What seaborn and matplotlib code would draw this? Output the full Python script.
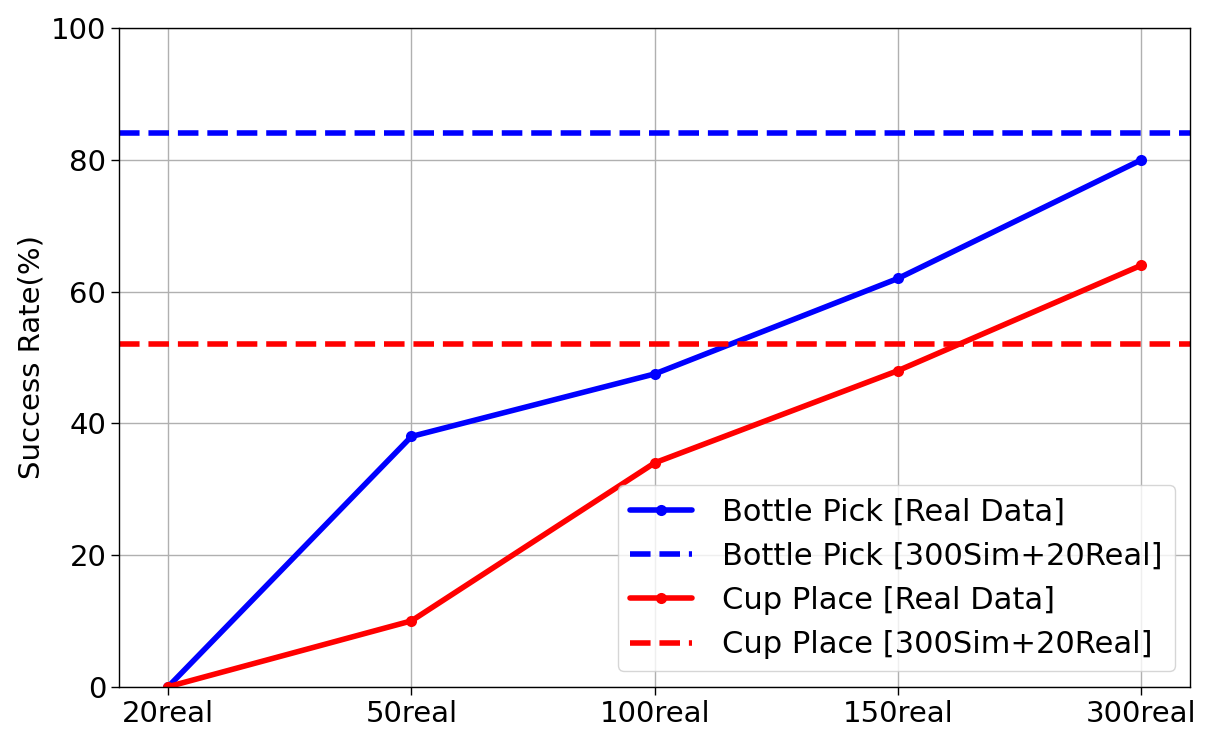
import seaborn as sns
import pandas as pd
import matplotlib.pyplot as plt

# data
setups = ['20real', '50real', '100real', '150real', '300real']
bottle_real = [0, 38, 47.5, 62, 80]
cup_real = [0, 10, 34, 48, 64]
bottle_sim = 84
cup_sim = 52

df = pd.DataFrame({'setup': setups, 'bottle': bottle_real, 'cup': cup_real})
df['pos'] = range(len(setups))

sns.set_style('white')
plt.rcParams['font.family'] = ['DejaVu Sans']
plt.rcParams.update({'text.color': 'black', 'axes.labelcolor': 'black',
                     'xtick.color': 'black', 'ytick.color': 'black'})

fig, ax = plt.subplots(figsize=(12.07, 7.4), dpi=100)

sns.lineplot(data=df, x='pos', y='bottle', color='blue', lw=4, marker='o',
             markersize=8, markeredgewidth=0, label='Bottle Pick [Real Data]', ax=ax)
ax.axhline(bottle_sim, color='blue', ls='--', lw=4,
           label='Bottle Pick [300Sim+20Real]')
sns.lineplot(data=df, x='pos', y='cup', color='red', lw=4, marker='o',
             markersize=8, markeredgewidth=0, label='Cup Place [Real Data]', ax=ax)
ax.axhline(cup_sim, color='red', ls='--', lw=4,
           label='Cup Place [300Sim+20Real]')

ax.set_xticks(df['pos'])
ax.set_xticklabels(setups)
ax.set_xlim(-0.2, 4.2)
ax.set_ylim(0, 100)
ax.set_xlabel('')
ax.set_ylabel('Success Rate(%)', fontsize=21, labelpad=4)
ax.tick_params(axis='both', labelsize=21, length=6, width=1, direction='out',
               bottom=True, left=True)
ax.grid(True, color='#b0b0b0', lw=1)
for sp in ax.spines.values():
    sp.set_color('black')
    sp.set_linewidth(1)

ax.legend(loc='lower right', fontsize=22, framealpha=0.8, edgecolor='#cccccc',
          handletextpad=1.0)

fig.subplots_adjust(left=0.099, right=0.986, top=0.962, bottom=0.072)
fig.savefig('out.png', dpi=100)
